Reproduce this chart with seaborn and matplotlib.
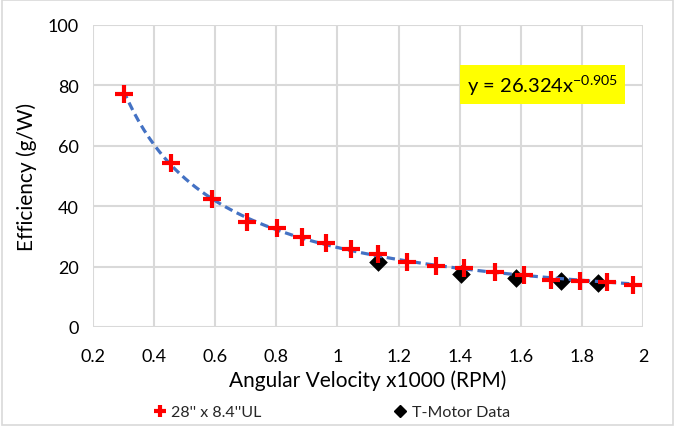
import numpy as np
import pandas as pd
import matplotlib
matplotlib.use("Agg")
import matplotlib.pyplot as plt
import seaborn as sns
from matplotlib.patches import Rectangle
from matplotlib.lines import Line2D

# Data
prop_rpm = [0.30, 0.455, 0.59, 0.704, 0.802, 0.884, 0.964, 1.043, 1.132, 1.228,
            1.321, 1.414, 1.515, 1.611, 1.70, 1.794, 1.882, 1.966]
prop_eff = [77.3, 54.3, 42.4, 34.9, 32.7, 29.7, 27.7, 25.7, 24.2, 21.6,
            20.3, 19.5, 18.1, 17.2, 15.7, 15.1, 14.8, 14.0]
tmotor_rpm = [1.133, 1.403, 1.584, 1.733, 1.853]
tmotor_eff = [21.4, 17.5, 16.1, 15.1, 14.6]
fit_a, fit_b = 26.324, -0.905
series_names = ["28'' x 8.4''UL", "T-Motor Data"]
x_ticks = [0.2, 0.4, 0.6, 0.8, 1.0, 1.2, 1.4, 1.6, 1.8, 2.0]
x_tick_labels = ["0.2", "0.4", "0.6", "0.8", "1", "1.2", "1.4", "1.6", "1.8", "2"]
y_ticks = [0, 20, 40, 60, 80, 100]

sns.set_theme(style="white")
plt.rcParams['font.family'] = ['Lato', 'DejaVu Sans']

fig = plt.figure(figsize=(6.75, 4.27), dpi=100)
ax = fig.add_axes([93/675, 1-328/427, (643-93)/675, (328-26)/427])

fit_x = np.linspace(min(prop_rpm), max(prop_rpm), 200)
fit_df = pd.DataFrame({"x": fit_x, "y": fit_a * fit_x ** fit_b})
sns.lineplot(data=fit_df, x="x", y="y", ax=ax, color="#4472C4", lw=2.3,
             linestyle=(0, (2.6, 1.5)), zorder=4)

df1 = pd.DataFrame({"x": prop_rpm, "y": prop_eff})
df2 = pd.DataFrame({"x": tmotor_rpm, "y": tmotor_eff})
sns.scatterplot(data=df2, x="x", y="y", ax=ax, marker="D", s=90, color="black",
                edgecolor="black", linewidth=0, zorder=3)
sns.scatterplot(data=df1, x="x", y="y", ax=ax, marker="+", s=150, color="#FF0000",
                linewidth=3.0, zorder=5)

ax.set_xlim(0.2, 2.0)
ax.set_ylim(0, 100)
ax.set_xticks(x_ticks)
ax.set_xticklabels(x_tick_labels)
ax.set_yticks(y_ticks)
ax.grid(True, color="#D9D9D9", lw=1.5)
for s in ax.spines.values():
    s.set_visible(False)
ax.tick_params(axis="both", labelsize=13, colors="black", length=0)
ax.tick_params(axis="x", pad=15)
ax.tick_params(axis="y", pad=10)
ax.set_xlabel("Angular Velocity x1000 (RPM)", fontsize=15, color="black", labelpad=4)
ax.set_ylabel("Efficiency (g/W)", fontsize=15, color="black", labelpad=8)

ax.text(1.423, 80.3, r"y = 26.324x$^{\mathregular{-0.905}}$", fontsize=14.5,
        color="black", va="center", ha="left", zorder=6,
        bbox=dict(boxstyle="square,pad=0.35", facecolor="#FFFF00", edgecolor="none"))

# legend
handles = [Line2D([], [], marker="+", color="#FF0000", ls="none", ms=8, mew=3),
           Line2D([], [], marker="D", color="black", ls="none", ms=6)]
fig.legend(handles, series_names, loc="center", bbox_to_anchor=(0.49, 1-413/427),
           ncol=2, frameon=False, fontsize=11.5, columnspacing=8.2, handletextpad=0.2,
           handlelength=1.0)

fig.patches.append(Rectangle((0.003, 0.003), 0.994, 0.994, transform=fig.transFigure,
                             fill=False, edgecolor="#D9D9D9", lw=1.2))

fig.savefig("out.png", dpi=100)
